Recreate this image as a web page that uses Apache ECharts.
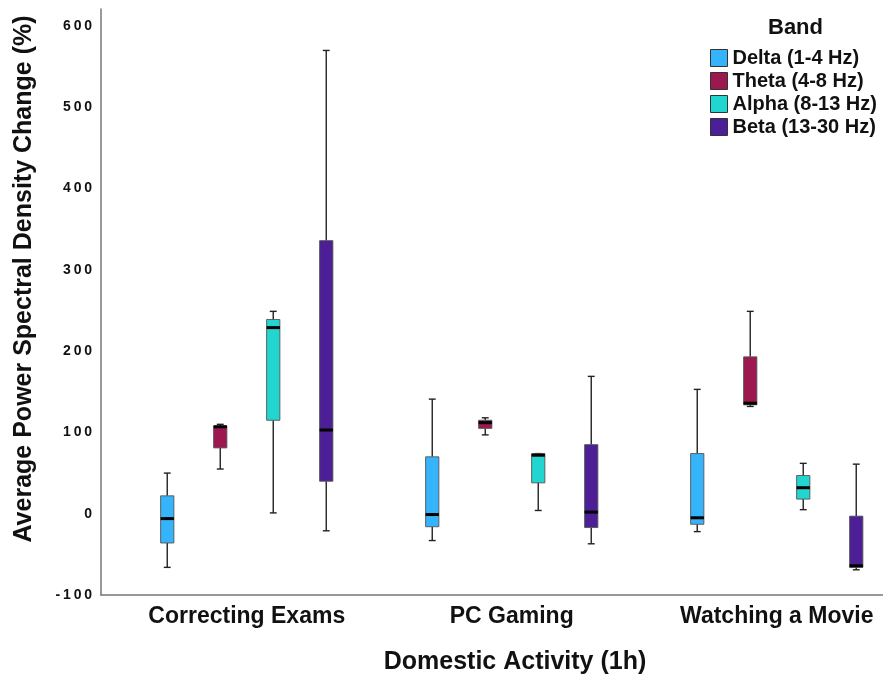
<!DOCTYPE html>
<html>
<head>
<meta charset="utf-8">
<script src="https://cdn.jsdelivr.net/npm/echarts@6/dist/echarts.min.js"></script>
<style>
  html, body { margin: 0; padding: 0; background: #fff; }
  #chart { width: 883px; height: 680px; }
</style>
</head>
<body>
<div id="chart"></div>
<script>
// Domestic activities on the x axis
const activities = ['Correcting Exams', 'PC Gaming', 'Watching a Movie'];
// EEG bands (one box per band within each activity)
const bands = ['Delta (1-4 Hz)', 'Theta (4-8 Hz)', 'Alpha (8-13 Hz)', 'Beta (13-30 Hz)'];
const bandColors = ['#35B3FB', '#9E1850', '#21D5D0', '#4D1F97'];

// Box statistics per activity: [min, Q1, median, Q3, max] in %
const deltaStats = [[-66, -36, -6, 22, 50], [-33, -16, -1, 70, 141], [-22, -13, -5, 74, 153]];
const thetaStats = [[55, 81, 107, 108, 110], [97, 105, 112, 115, 118], [132, 134, 136, 193, 249]];
const alphaStats = [[1, 115, 229, 239, 249], [4, 38, 72, 74, 74], [5, 18, 32, 47, 62]];
const betaStats = [[-21, 40, 103, 336, 570], [-37, -17, 2, 85, 169], [-69, -66, -64, -3, 61]];

const yTickValues = [-100, 0, 100, 200, 300, 400, 500, 600];

const FONT = '"Liberation Sans", Arial, Helvetica, sans-serif';
const allStats = [deltaStats, thetaStats, alphaStats, betaStats];
// horizontal position of each band inside an activity group (in group units)
const bandOffsets = [-0.3, -0.1, 0.1, 0.3];

function makeRenderer(offset, color) {
  return function (params, api) {
    const x = api.value(0) + offset;
    const pt = v => api.coord([x, v]);
    const half = api.size([0.025, 0])[0];
    const cap = api.size([0.013, 0])[0];
    const [cx, yMin] = pt(api.value(1));
    const yQ1 = pt(api.value(2))[1];
    const yMed = pt(api.value(3))[1];
    const yQ3 = pt(api.value(4))[1];
    const yMax = pt(api.value(5))[1];
    const whisker = { stroke: '#222', lineWidth: 1.4 };
    return {
      type: 'group',
      children: [
        { type: 'line', shape: { x1: cx, y1: yQ1, x2: cx, y2: yMin }, style: whisker },
        { type: 'line', shape: { x1: cx, y1: yQ3, x2: cx, y2: yMax }, style: whisker },
        { type: 'line', shape: { x1: cx - cap, y1: yMin, x2: cx + cap, y2: yMin }, style: whisker },
        { type: 'line', shape: { x1: cx - cap, y1: yMax, x2: cx + cap, y2: yMax }, style: whisker },
        {
          type: 'rect',
          shape: { x: cx - half, y: yQ3, width: half * 2, height: yQ1 - yQ3 },
          style: { fill: color, stroke: '#555', lineWidth: 0.9 }
        },
        { type: 'line', shape: { x1: cx - half, y1: yMed, x2: cx + half, y2: yMed }, style: { stroke: '#000', lineWidth: 3 } }
      ]
    };
  };
}

const series = bands.map((name, b) => ({
  name: name,
  type: 'custom',
  renderItem: makeRenderer(bandOffsets[b], bandColors[b]),
  itemStyle: { color: bandColors[b], borderColor: '#333', borderWidth: 1 },
  encode: { x: 0, y: [1, 2, 3, 4, 5] },
  data: allStats[b].map((s, i) => [i].concat(s))
}));

const spaced = v => String(v).split('').join('\u2009');

const chart = echarts.init(document.getElementById('chart'));
chart.setOption({
  animation: false,
  backgroundColor: '#fff',
  title: {
    text: 'Band',
    left: 763,
    top: 12,
    textStyle: { fontFamily: FONT, fontWeight: 'bold', fontSize: 22, color: '#111' }
  },
  legend: {
    data: bands,
    orient: 'vertical',
    left: 710,
    top: 48,
    padding: 0,
    itemWidth: 17,
    itemHeight: 17,
    itemGap: 3,
    icon: 'rect',
    itemStyle: { borderColor: '#333', borderWidth: 1 },
    textStyle: { fontFamily: FONT, fontWeight: 'bold', fontSize: 20, color: '#111' }
  },
  grid: { left: 101, right: 0, top: 9, bottom: 83 },
  xAxis: {
    type: 'value',
    min: -0.55,
    max: 2.401,
    axisLine: { show: true, onZero: false, lineStyle: { color: '#777', width: 1.5 } },
    axisTick: { show: false },
    splitLine: { show: false },
    axisLabel: {
      customValues: [0, 1, 2],
      formatter: v => activities[Math.round(v)] || '',
      margin: 10,
      fontFamily: FONT, fontWeight: 'bold', fontSize: 23, color: '#111'
    },
    name: 'Domestic Activity (1h)',
    nameLocation: 'middle',
    nameGap: 55,
    nameTextStyle: { fontFamily: FONT, fontWeight: 'bold', fontSize: 25, color: '#111', padding: [0, 0, 0, 46] }
  },
  yAxis: {
    type: 'value',
    min: -100,
    max: 621,
    interval: 100,
    axisLine: { show: true, onZero: false, lineStyle: { color: '#777', width: 1.5 } },
    axisTick: { show: false },
    splitLine: { show: false },
    axisLabel: {
      customValues: yTickValues,
      formatter: v => spaced(v),
      margin: 9,
      fontFamily: FONT, fontWeight: 'bold', fontSize: 14, color: '#111'
    },
    name: 'Average Power Spectral Density Change (%)',
    nameLocation: 'middle',
    nameGap: 64,
    nameTextStyle: { fontFamily: FONT, fontWeight: 'bold', fontSize: 25, color: '#111', padding: [0, 0, 0, 46] }
  },
  series: series
});
</script>
</body>
</html>
